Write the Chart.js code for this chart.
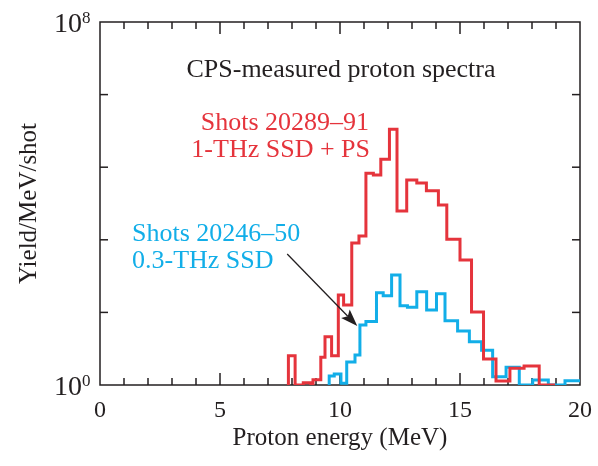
<!DOCTYPE html>
<html lang="en">
<head>
<meta charset="UTF-8">
<title>CPS-measured proton spectra</title>
<script src="https://cdn.jsdelivr.net/npm/chart.js@4.4.1/dist/chart.umd.min.js"></script>
<style>
  html, body { margin: 0; padding: 0; background: #fff; }
  .wrap { width: 598px; height: 466px; position: relative; }
</style>
</head>
<body>
<div class="wrap"><canvas id="spectra"></canvas></div>
<script>
// Shots 20289-91 (1-THz SSD + PS): bin edges in MeV and yield per bin
const redEdges = [7.85, 8.13, 8.47, 8.78, 8.875, 9.2, 9.375, 9.65, 9.93, 10.15, 10.49, 10.79,
                  11.08, 11.39, 11.7, 12.06, 12.375, 12.78, 13.2, 13.6, 14.1, 14.45, 15.0,
                  15.48, 15.98, 16.5, 17.08, 17.67, 18.3, 18.96];
const redYield = [4.4, 1, 1.12, 1, 1.3, 4.1, 11.6, 4.4, 96, 58, 1350, 1920,
                  46300, 42500, 94200, 431000, 6840, 33000, 28300, 19100, 9270, 1630,
                  569, 40.6, 3.74, 1.22, 2.33, 2.62, 1];

// Shots 20246-50 (0.3-THz SSD)
const blueEdges = [9.55, 9.76, 10.04, 10.28, 10.625, 10.83, 11.08, 11.52, 11.8, 12.15, 12.5,
                   12.81, 13.2, 13.61, 14.02, 14.375, 14.9, 15.39, 15.9, 16.36, 16.92, 17.47,
                   18.03, 18.68, 19.375, 20.0];
const blueYield = [1.58, 1.75, 1.09, 3.2, 4.6, 21, 25, 108, 93, 265, 56, 52, 114, 45, 102,
                   26, 15.5, 9.0, 5.8, 1.52, 2.45, 1, 1.29, 1, 1.24];

const xTickLabels = [0, 5, 10, 15, 20];
const yTickValues = [1, Math.pow(10, 1.6), Math.pow(10, 3.2), Math.pow(10, 4.8), Math.pow(10, 6.4), 1e8];
const yLabelExps = [0, 8];

// arrow from the blue caption to the rising edge of its spectrum (MeV, yield)
const arrowFrom = [7.8, 770];
const arrowTo = [10.72, 20];

const RED = '#e5343c';
const BLUE = '#12aee8';
const INK = '#231f20';
const SERIF = '"Liberation Serif", "DejaVu Serif", serif';

// stepped outline: rise from the floor, hold each bin, drop back at the end
function histogramPoints(edges, yields) {
  const pts = [{ x: edges[0], y: 1 }];
  yields.forEach((v, i) => pts.push({ x: edges[i], y: v }));
  const last = edges[edges.length - 1];
  pts.push({ x: last, y: last >= 20 ? yields[yields.length - 1] : 1 });
  return pts;
}

function line(ctx, x1, y1, x2, y2) {
  ctx.beginPath();
  ctx.moveTo(x1, y1);
  ctx.lineTo(x2, y2);
  ctx.stroke();
}

const frame = {
  id: 'frame',
  beforeDatasetsDraw(chart) {
    const { ctx, chartArea: a, scales: { x, y } } = chart;
    ctx.save();
    ctx.strokeStyle = INK;
    ctx.lineWidth = 1.5;
    ctx.strokeRect(a.left, a.top, a.right - a.left, a.bottom - a.top);
    for (let e = 1; e < 20; e++) {
      const px = x.getPixelForValue(e);
      const len = e % 5 === 0 ? 12 : 7;
      line(ctx, px, a.bottom, px, a.bottom - len);
      line(ctx, px, a.top, px, a.top + len);
    }
    yTickValues.slice(1, -1).forEach(v => {
      const py = y.getPixelForValue(v);
      line(ctx, a.left, py, a.left + 8, py);
      line(ctx, a.right, py, a.right - 8, py);
    });

    // 10^n labels with raised exponent
    ctx.fillStyle = INK;
    ctx.textBaseline = 'alphabetic';
    yLabelExps.forEach(n => {
      const py = y.getPixelForValue(Math.pow(10, n));
      ctx.font = '28px ' + SERIF;
      ctx.textAlign = 'right';
      ctx.fillText('10', 82, py + 10);
      ctx.font = '17px ' + SERIF;
      ctx.textAlign = 'left';
      ctx.fillText(String(n), 82, py + 1);
    });
    ctx.restore();
  },
  afterDatasetsDraw(chart) {
    const { ctx, scales: { x, y } } = chart;
    ctx.save();
    ctx.font = '26px ' + SERIF;
    ctx.textBaseline = 'alphabetic';

    ctx.fillStyle = INK;
    ctx.textAlign = 'center';
    ctx.fillText('CPS-measured proton spectra', 341, 77);

    ctx.fillStyle = RED;
    ctx.textAlign = 'right';
    ctx.fillText('Shots 20289\u201391', 369, 130);
    ctx.fillText('1-THz SSD + PS', 370, 157);

    ctx.fillStyle = BLUE;
    ctx.textAlign = 'left';
    ctx.fillText('Shots 20246\u201350', 132, 241);
    ctx.fillText('0.3-THz SSD', 132, 268);

    // arrow
    const x1 = x.getPixelForValue(arrowFrom[0]), y1 = y.getPixelForValue(arrowFrom[1]);
    const x2 = x.getPixelForValue(arrowTo[0]), y2 = y.getPixelForValue(arrowTo[1]);
    const ang = Math.atan2(y2 - y1, x2 - x1);
    const headLen = 17, headW = 6;
    ctx.strokeStyle = INK;
    ctx.fillStyle = INK;
    ctx.lineWidth = 1.3;
    const bx = x2 - Math.cos(ang) * headLen * 0.8, by = y2 - Math.sin(ang) * headLen * 0.8;
    line(ctx, x1, y1, bx, by);
    ctx.beginPath();
    ctx.moveTo(x2, y2);
    ctx.lineTo(x2 - Math.cos(ang) * headLen + Math.sin(ang) * headW,
               y2 - Math.sin(ang) * headLen - Math.cos(ang) * headW);
    ctx.lineTo(bx, by);
    ctx.lineTo(x2 - Math.cos(ang) * headLen - Math.sin(ang) * headW,
               y2 - Math.sin(ang) * headLen + Math.cos(ang) * headW);
    ctx.closePath();
    ctx.fill();
    ctx.restore();
  }
};

new Chart(document.getElementById('spectra'), {
  type: 'line',
  data: {
    datasets: [
      {
        label: 'Shots 20289-91',
        data: histogramPoints(redEdges, redYield),
        borderColor: RED,
        borderWidth: 3,
        stepped: 'before',
        pointRadius: 0,
        fill: false
      },
      {
        label: 'Shots 20246-50',
        data: histogramPoints(blueEdges, blueYield),
        borderColor: BLUE,
        borderWidth: 3,
        stepped: 'before',
        pointRadius: 0,
        fill: false
      }
    ]
  },
  options: {
    responsive: true,
    maintainAspectRatio: false,
    animation: false,
    layout: { padding: { left: 0, right: 18, top: 22, bottom: 0 } },
    plugins: {
      legend: { display: false },
      tooltip: { enabled: false }
    },
    scales: {
      x: {
        type: 'linear',
        min: 0,
        max: 20,
        afterBuildTicks: s => { s.ticks = xTickLabels.map(v => ({ value: v })); },
        ticks: { font: { family: SERIF, size: 24 }, color: INK, padding: 11, maxRotation: 0 },
        grid: { display: false, drawTicks: false },
        border: { display: false },
        title: {
          display: true,
          text: 'Proton energy (MeV)',
          font: { family: SERIF, size: 25 },
          color: INK,
          padding: { top: 0, bottom: 13 }
        },
        afterFit: s => { s.height = 81; s.paddingLeft = 0; s.paddingRight = 0; }
      },
      y: {
        type: 'logarithmic',
        min: 1,
        max: 1e8,
        ticks: { display: false },
        grid: { display: false, drawTicks: false },
        border: { display: false },
        title: {
          display: true,
          text: 'Yield/MeV/shot',
          font: { family: SERIF, size: 25 },
          color: INK,
          padding: { top: 14, bottom: 0 }
        },
        afterFit: s => { s.width = 100; }
      }
    }
  },
  plugins: [frame]
});
</script>
</body>
</html>
